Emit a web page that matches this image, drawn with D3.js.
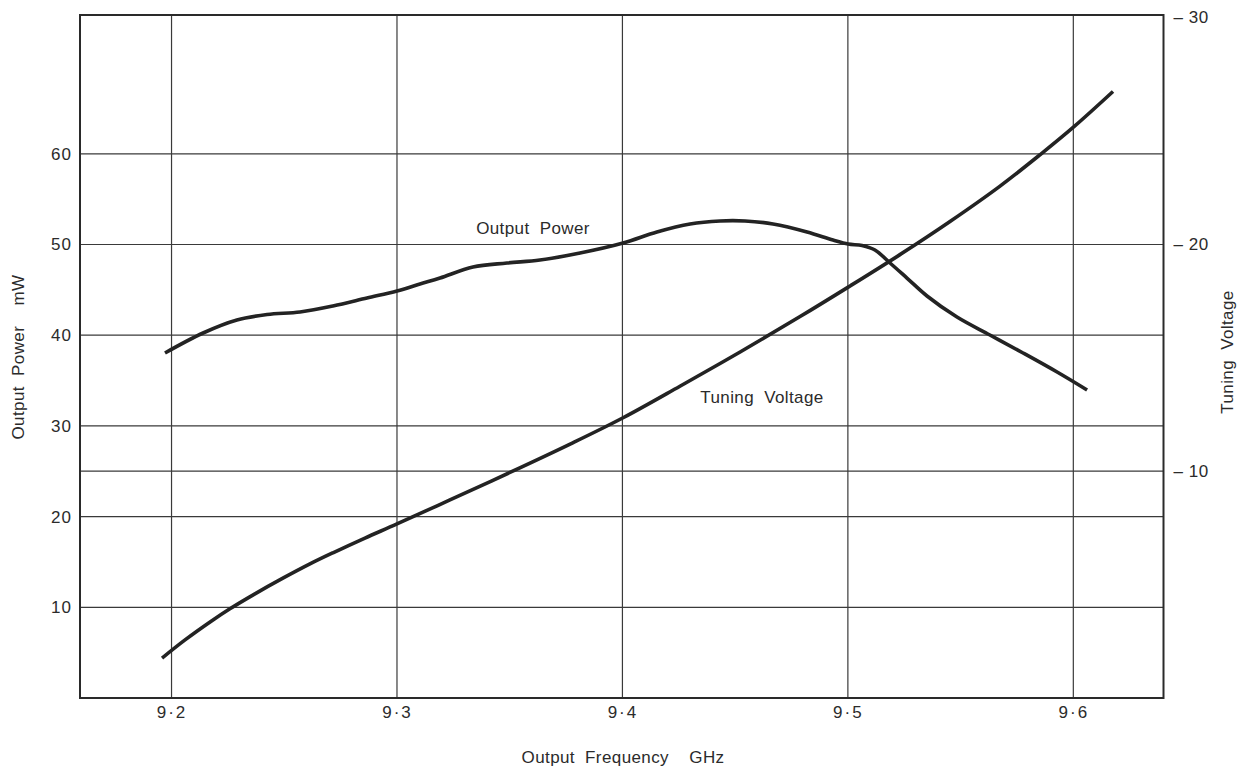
<!DOCTYPE html>
<html>
<head>
<meta charset="utf-8">
<script src="https://cdn.jsdelivr.net/npm/d3@7"></script>
<style>
  html, body { margin: 0; padding: 0; background: #fff; }
  svg { display: block; }
  text { font-family: "Liberation Sans", Arial, sans-serif; fill: #2b2b2b; }
</style>
</head>
<body>
<svg id="chart" width="1247" height="769"></svg>
<script>
// ---- data ----
const freqTicks = [9.2, 9.3, 9.4, 9.5, 9.6];
const freqTickLabels = ["9·2", "9·3", "9·4", "9·5", "9·6"];
const powerTicks = [10, 20, 30, 40, 50, 60];
const voltageTicks = [10, 20, 30];
const voltageTickLabels = ["– 10", "– 20", "– 30"];

// Output Power (mW) vs frequency (GHz)
const powerFreq = [9.1971, 9.2140, 9.2290, 9.2424, 9.2570, 9.2716, 9.2867, 9.3000, 9.3102, 9.3191, 9.3337, 9.3488, 9.3634, 9.3812, 9.4003, 9.4153, 9.4300, 9.4433, 9.4544, 9.4668, 9.4819, 9.4934, 9.5001, 9.5063, 9.5120, 9.5187, 9.5262, 9.5351, 9.5484, 9.5630, 9.5777, 9.5928, 9.6061];
const powerMW   = [38.04, 40.24, 41.67, 42.28, 42.56, 43.22, 44.10, 44.87, 45.64, 46.30, 47.52, 47.96, 48.29, 49.06, 50.16, 51.38, 52.26, 52.59, 52.59, 52.26, 51.38, 50.49, 50.05, 49.89, 49.39, 47.96, 46.30, 44.32, 42.00, 40.02, 38.04, 35.94, 33.96];

// Tuning Voltage (magnitude, V) vs frequency (GHz)
const voltFreq = [9.1958, 9.2060, 9.2171, 9.2259, 9.2370, 9.2494, 9.2614, 9.2716, 9.2858, 9.3000, 9.3235, 9.3501, 9.3768, 9.4003, 9.4255, 9.4522, 9.4788, 9.5005, 9.5231, 9.5453, 9.5675, 9.5852, 9.6003, 9.6176];
const voltV    = [1.76, 2.56, 3.35, 3.93, 4.59, 5.28, 5.91, 6.40, 7.05, 7.67, 8.73, 9.94, 11.19, 12.35, 13.74, 15.25, 16.81, 18.13, 19.54, 21.00, 22.56, 23.94, 25.18, 26.73];

// ---- layout ----
const L = 80, R = 1163.5, T = 15, B = 698;
const svg = d3.select("#chart");

const x = d3.scaleLinear().domain([9.1594, 9.6400]).range([L, R]);
const yL = d3.scaleLinear().domain([0, 75.3]).range([B, T]);
const yR = d3.scaleLinear().domain([0, 30.1]).range([B, T]);

const gridColor = "#3a3a3a";

// grid lines
svg.append("g").selectAll("line").data(freqTicks).join("line")
  .attr("x1", d => x(d)).attr("x2", d => x(d)).attr("y1", T).attr("y2", B)
  .attr("stroke", gridColor).attr("stroke-width", 1.2);
svg.append("g").selectAll("line").data(powerTicks).join("line")
  .attr("x1", L).attr("x2", R).attr("y1", d => yL(d)).attr("y2", d => yL(d))
  .attr("stroke", gridColor).attr("stroke-width", 1.2);
svg.append("g").selectAll("line").data(voltageTicks.filter(v => v === 10)).join("line")
  .attr("x1", L).attr("x2", R).attr("y1", d => yR(d)).attr("y2", d => yR(d))
  .attr("stroke", gridColor).attr("stroke-width", 1.2);

// frame
svg.append("rect").attr("x", L).attr("y", T).attr("width", R - L).attr("height", B - T)
  .attr("fill", "none").attr("stroke", "#2a2a2a").attr("stroke-width", 2);

// axes
const fs = "17px";
const ax = svg.append("g").attr("transform", `translate(0,${B})`)
  .call(d3.axisBottom(x).tickValues(freqTicks).tickFormat((d, i) => freqTickLabels[i]).tickSize(0).tickPadding(8));
const al = svg.append("g").attr("transform", `translate(${L},0)`)
  .call(d3.axisLeft(yL).tickValues(powerTicks).tickSize(0).tickPadding(8));
const ar = svg.append("g").attr("transform", `translate(${R},0)`)
  .call(d3.axisRight(yR).tickValues(voltageTicks).tickFormat((d, i) => voltageTickLabels[i]).tickSize(0).tickPadding(10));
[ax, al, ar].forEach(g => {
  g.select(".domain").remove();
  g.selectAll("text").attr("font-size", fs).attr("fill", "#2b2b2b")
    .attr("font-family", "'Liberation Sans', Arial, sans-serif").style("letter-spacing", "1px");
});
ax.selectAll("text").style("letter-spacing", "2px");
ar.selectAll("text").style("letter-spacing", "0.5px").style("white-space", "pre");

// curves
const line = (xs, ys, yScale) => d3.line().curve(d3.curveCatmullRom.alpha(0.5))
  .x((d, i) => x(xs[i])).y((d, i) => yScale(ys[i]))(xs);

svg.append("path").attr("d", line(powerFreq, powerMW, yL))
  .attr("fill", "none").attr("stroke", "#232323").attr("stroke-width", 3.6);
svg.append("path").attr("d", line(voltFreq, voltV, yR))
  .attr("fill", "none").attr("stroke", "#232323").attr("stroke-width", 3.6);

// labels
const lab = (txt, px, py, rot) => {
  const t = svg.append("text").text(txt)
    .attr("text-anchor", "middle").attr("dominant-baseline", "central")
    .attr("font-size", fs).style("word-spacing", "5px").style("letter-spacing", "0.4px");
  if (rot) t.attr("transform", `translate(${px},${py}) rotate(${rot})`);
  else t.attr("x", px).attr("y", py);
  return t;
};
lab("Output Power", 533, 228);
lab("Tuning Voltage", 762, 397);
lab("Output Frequency  GHz", 623, 757).style("white-space", "pre");
lab("Output Power  mW", 18, 357, -90).style("white-space", "pre");
lab("Tuning Voltage", 1227, 352, -90);
</script>
</body>
</html>
